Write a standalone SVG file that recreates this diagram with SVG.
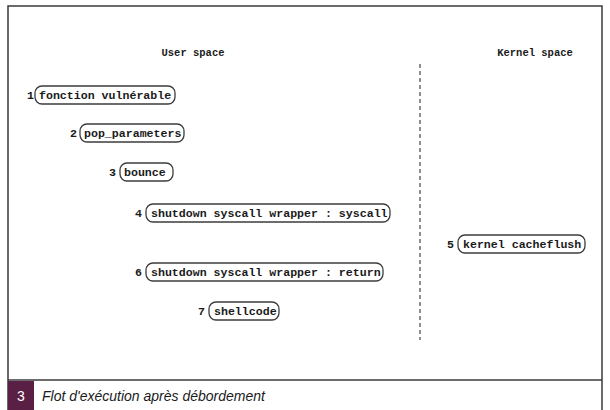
<svg xmlns="http://www.w3.org/2000/svg" width="610" height="410" viewBox="0 0 610 410">
  <style>
    .frame { fill: #ffffff; stroke: #3a3a3a; stroke-width: 1.5; }
    .box { fill: #ffffff; stroke: #3c3c3c; stroke-width: 1.3; }
    .lbl { font-family: "Liberation Mono", "DejaVu Sans Mono", monospace; font-size: 11.6px; font-weight: bold; fill: #1a1a1a; }
    .num { font-family: "Liberation Mono", "DejaVu Sans Mono", monospace; font-size: 11.6px; font-weight: bold; fill: #1a1a1a; text-anchor: end; }
    .head { font-family: "Liberation Mono", "DejaVu Sans Mono", monospace; font-size: 10.5px; font-weight: bold; fill: #1a1a1a; text-anchor: middle; }
    .divider { stroke: #555555; stroke-width: 1.3; stroke-dasharray: 4 3; fill: none; }
    .cap { font-family: "Liberation Sans", Arial, sans-serif; font-size: 14px; font-style: italic; fill: #1a1a1a; }
  </style>

  <!-- outer frame -->
  <rect x="8" y="6" width="594" height="410" class="frame"/>
  <line x1="8" y1="380" x2="602" y2="380" stroke="#3a3a3a" stroke-width="1.5"/>

  <!-- column headings -->
  <text x="193" y="56" class="head">User space</text>
  <text x="535" y="56" class="head">Kernel space</text>

  <!-- user / kernel boundary -->
  <line x1="420" y1="64" x2="420" y2="340" class="divider"/>

  <g id="n1">
    <text x="34" y="99" class="num">1</text>
    <rect x="35" y="86" width="140" height="18" rx="7" class="box"/>
    <text x="39" y="99" class="lbl">fonction vulnérable</text>
  </g>
  <g id="n2">
    <text x="77" y="137" class="num">2</text>
    <rect x="80" y="124" width="104" height="18" rx="7" class="box"/>
    <text x="84" y="137" class="lbl">pop_parameters</text>
  </g>
  <g id="n3">
    <text x="116" y="176" class="num">3</text>
    <rect x="120" y="163" width="53" height="18" rx="7" class="box"/>
    <text x="124" y="176" class="lbl">bounce</text>
  </g>
  <g id="n4">
    <text x="142" y="217" class="num">4</text>
    <rect x="146" y="204" width="244" height="18" rx="7" class="box"/>
    <text x="151" y="217" class="lbl">shutdown syscall wrapper : syscall</text>
  </g>
  <g id="n5">
    <text x="454" y="248" class="num">5</text>
    <rect x="458" y="235" width="127" height="18" rx="7" class="box"/>
    <text x="463" y="248" class="lbl">kernel cacheflush</text>
  </g>
  <g id="n6">
    <text x="142" y="276" class="num">6</text>
    <rect x="146" y="263" width="237" height="18" rx="7" class="box"/>
    <text x="151" y="276" class="lbl">shutdown syscall wrapper : return</text>
  </g>
  <g id="n7">
    <text x="205" y="315" class="num">7</text>
    <rect x="209" y="302" width="70" height="18" rx="7" class="box"/>
    <text x="214" y="315" class="lbl">shellcode</text>
  </g>

  <!-- caption bar -->
  <rect x="8" y="381" width="26" height="29" fill="#5a1f45"/>
  <text x="21" y="401" font-family="Liberation Sans, Arial, sans-serif" font-size="14" fill="#ffffff" text-anchor="middle">3</text>
  <text x="42" y="401" class="cap">Flot d'exécution après débordement</text>
</svg>
